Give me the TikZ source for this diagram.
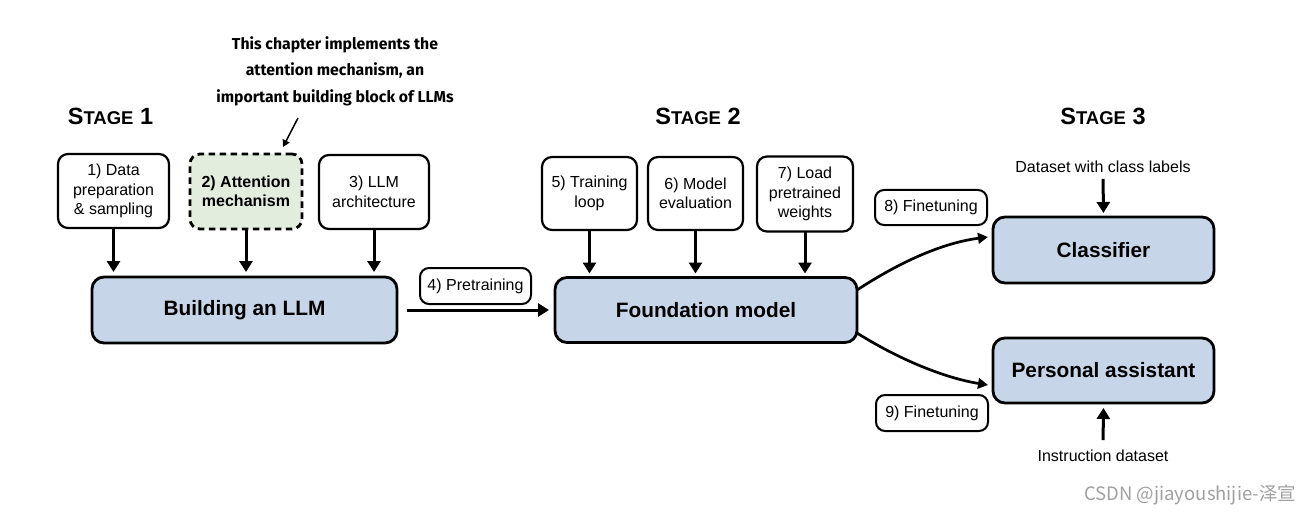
\documentclass[tikz,border=0pt]{standalone}
\usepackage{fontspec}
\setmainfont{Liberation Sans}
\newfontfamily\annfont{Fira Sans}
\newfontfamily\cjkfont{Noto Sans CJK SC}
\usetikzlibrary{arrows.meta,calc}
\definecolor{boxblue}{RGB}{198,214,232}
\definecolor{boxgreen}{RGB}{227,237,222}
\definecolor{wmgray}{RGB}{160,160,160}
\newcommand\stagetitle[1]{{\fontsize{23.5}{23}\selectfont\bfseries S}{\fontsize{18.5}{18}\selectfont\bfseries TAGE}\hspace{6.5pt}{\fontsize{23.5}{23}\selectfont\bfseries #1}}
\begin{document}
\begin{tikzpicture}[x=1pt,y=-1pt,
  every node/.style={inner sep=0pt, outer sep=0pt},
  stepbox/.style={draw, line width=2.2pt, rounded corners=10pt, align=center, fill=white,
    font=\fontsize{16}{19.5}\selectfont},
  bigbox/.style={draw, line width=2.8pt, rounded corners=12pt, fill=boxblue, align=center,
    font=\fontsize{20.8}{24}\selectfont\bfseries},
  labbox/.style={draw, line width=2pt, rounded corners=9pt, fill=white,
    font=\fontsize{16}{19}\selectfont},
  plain/.style={font=\fontsize{16}{19}\selectfont},
  arr/.style={line width=3pt, -{Triangle[length=11pt,width=13pt]}},
  curvearr/.style={line width=2.7pt, -{Triangle[length=10pt,width=10.5pt]}},
  thinarr/.style={line width=1.5pt, -{Triangle[length=7pt,width=7.5pt]}}
]
\useasboundingbox[fill=white] (0,0) rectangle (1310,516);

% annotation
\node[align=center, font=\annfont\fontsize{15.8}{26.5}\selectfont\bfseries] (ann) at (335,71)
  {This chapter implements the\\attention mechanism, an\\important building block of LLMs};

% stage titles
\node (s1) at (110.5,116) {\stagetitle{1}};
\node (s2) at (698,116) {\stagetitle{2}};
\node (s3) at (1103,116) {\stagetitle{3}};

% stage 1 boxes
\node[stepbox, minimum width=111pt, minimum height=74pt] (b1) at (113.5,191)
  {1) Data\\preparation\\\& sampling};
\node[stepbox, fill=boxgreen, dash pattern=on 6.5pt off 4.5pt, line width=2.8pt, minimum width=112pt, minimum height=75pt,
  font=\fontsize{16}{19.5}\selectfont\bfseries] (b2) at (246,191.5)
  {2) Attention\\mechanism};
\node[stepbox, minimum width=110pt, minimum height=74pt] (b3) at (374,192)
  {3) LLM\\architecture};
\node[bigbox, minimum width=305pt, minimum height=66pt] (build) at (244.5,310) {Building an LLM};

% stage 2 boxes
\node[stepbox, minimum width=95pt, minimum height=73pt] (b5) at (589.5,193.5) {5) Training\\loop};
\node[stepbox, minimum width=95pt, minimum height=73pt] (b6) at (695.5,193.5) {6) Model\\evaluation};
\node[stepbox, minimum width=96pt, minimum height=75pt] (b7) at (805,194) {7) Load\\pretrained\\weights};
\node[bigbox, minimum width=302pt, minimum height=65pt] (found) at (706,310) {Foundation model};

\node[labbox, minimum width=111pt, minimum height=36pt] (pre) at (475.5,286) {4) Pretraining};

% stage 3
\node[plain] (dcl) at (1103,167) {Dataset with class labels};
\node[bigbox, minimum width=221pt, minimum height=66pt] (cls) at (1103.5,250) {Classifier};
\node[bigbox, minimum width=221pt, minimum height=65pt] (pers) at (1103.5,370.5) {Personal assistant};
\node[plain] (ins) at (1103,456) {Instruction dataset};
\node[labbox, minimum width=112pt, minimum height=35pt] (f8) at (931,207.5) {8) Finetuning};
\node[labbox, minimum width=112pt, minimum height=36pt] (f9) at (932,413) {9) Finetuning};

% watermark
\node[font=\cjkfont\fontsize{18.5}{20}\selectfont, text=wmgray, anchor=east] (wm) at (1296,495)
  {CSDN @jiayoushijie-泽宣};

% connectors
\coordinate (annA) at (298,118);
\coordinate (annB) at (283,147);
\draw[thinarr] (annA) -- (annB);

\foreach \b in {b1,b2,b3}{
  \draw[arr, shorten >=5pt] (\b.south) -- (\b.south |- build.north);
}
\foreach \b in {b5,b6,b7}{
  \draw[arr, shorten >=4pt] (\b.south) -- (\b.south |- found.north);
}
\draw[arr, shorten <=10pt, shorten >=6pt] (build.east) -- (found.west);

\coordinate (c1s) at (857,290);
\coordinate (c1e) at (988,237);
\coordinate (c2s) at (857,333);
\coordinate (c2e) at (988,385);
\draw[curvearr] (c1s) .. controls (900,262) and (942,243) .. (c1e);
\draw[curvearr] (c2s) .. controls (900,360) and (945,378) .. (c2e);

\draw[arr, shorten <=6pt, shorten >=4pt] (dcl.south) -- (cls.north);
\draw[arr, shorten <=10pt, shorten >=5pt] (ins.north) -- (pers.south);
\end{tikzpicture}
\end{document}
